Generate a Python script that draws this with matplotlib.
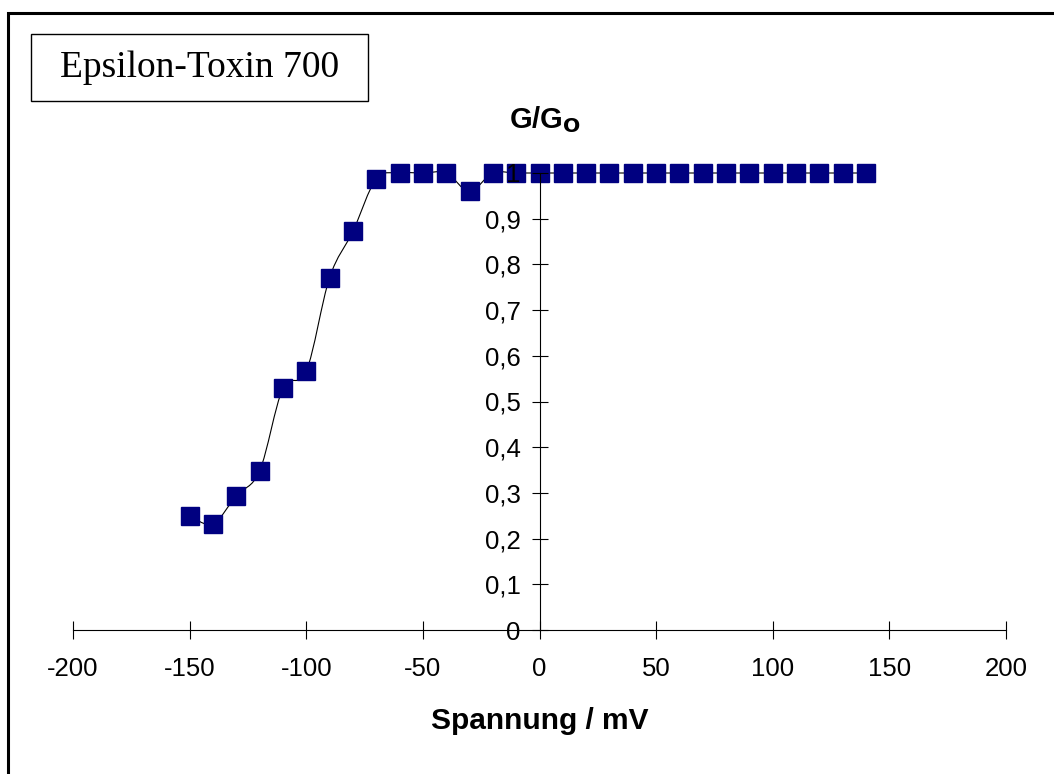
import matplotlib
matplotlib.use("Agg")
import matplotlib.pyplot as plt
from matplotlib.patches import Rectangle, PathPatch
from matplotlib.path import Path
from matplotlib.ticker import FuncFormatter

# membrane voltage (mV) and normalised conductance G/G0
spannung = [-150, -140, -130, -120, -110, -100, -90, -80, -70, -60, -50, -40, -30, -20,
            -10, 0, 10, 20, 30, 40, 50, 60, 70, 80, 90, 100, 110, 120, 130, 140]
leitwert = [0.250, 0.232, 0.294, 0.348, 0.529, 0.566, 0.771, 0.872, 0.987, 1.0, 1.0, 1.0, 0.960, 1.0,
            1.0, 1.0, 1.0, 1.0, 1.0, 1.0, 1.0, 1.0, 1.0, 1.0, 1.0, 1.0, 1.0, 1.0, 1.0, 1.0]

x_ticks = [-200, -150, -100, -50, 0, 50, 100, 150, 200]
y_ticks = [0, 0.1, 0.2, 0.3, 0.4, 0.5, 0.6, 0.7, 0.8, 0.9, 1]

titel = "Epsilon-Toxin 700"
x_label = "Spannung / mV"

W, H = 1054, 774
fig = plt.figure(figsize=(W / 100, H / 100), dpi=100)
ax = fig.add_axes([73 / W, 1 - 630 / H, 933 / W, 457 / H])

# smoothed connecting line (Catmull-Rom -> cubic Bezier)
def smooth_path(xs, ys):
    pts = list(zip(xs, ys))
    verts = [pts[0]]
    codes = [Path.MOVETO]
    n = len(pts)
    for i in range(n - 1):
        p0 = pts[i - 1] if i > 0 else pts[i]
        p1 = pts[i]
        p2 = pts[i + 1]
        p3 = pts[i + 2] if i + 2 < n else pts[i + 1]
        c1 = (p1[0] + (p2[0] - p0[0]) / 6, p1[1] + (p2[1] - p0[1]) / 6)
        c2 = (p2[0] - (p3[0] - p1[0]) / 6, p2[1] - (p3[1] - p1[1]) / 6)
        verts += [c1, c2, p2]
        codes += [Path.CURVE4] * 3
    return Path(verts, codes)

ax.add_patch(PathPatch(smooth_path(spannung, leitwert), fill=False, edgecolor="black",
                       lw=0.8, zorder=2, clip_on=False))
ax.plot(spannung, leitwert, ls="none", marker="s", ms=12.5, color="#000080",
        mec="#000080", zorder=2.2, clip_on=False)

ax.set_xlim(-200, 200)
ax.set_ylim(0, 1)
ax.set_xticks(x_ticks)
ax.set_yticks(y_ticks)
ax.set_axisbelow(False)  # tick labels ("1") stay on top of the markers

def komma(v, pos):
    if abs(v) < 1e-9:
        return "0"
    if abs(v - 1) < 1e-9:
        return "1"
    return ("%.1f" % v).replace(".", ",")

ax.yaxis.set_major_formatter(FuncFormatter(komma))
ax.xaxis.set_major_formatter(FuncFormatter(lambda v, p: "%d" % v))

for side in ("top", "right"):
    ax.spines[side].set_visible(False)
ax.spines["left"].set_position(("data", 0))
ax.spines["bottom"].set_position(("data", 0))
for side in ("left", "bottom"):
    ax.spines[side].set_linewidth(0.8)
    ax.spines[side].set_color("black")

ax.tick_params(axis="x", direction="inout", length=13, width=0.8, pad=13,
               labelsize=18.5, labelfontfamily="Liberation Sans")
ax.tick_params(axis="y", direction="inout", length=11.5, width=0.8, pad=8,
               labelsize=18.5, labelfontfamily="Liberation Sans")
ax.xaxis.set_ticks_position("bottom")
ax.yaxis.set_ticks_position("left")
ax.patch.set_visible(False)

# axis titles
fig.text(540 / W, 1 - 721 / H, x_label, ha="center", va="center",
         fontsize=21.5, fontweight="bold", family="Liberation Sans")
fig.text(545 / W, 1 - 120 / H, r"G/G$_\mathbf{O}$", ha="center", va="center",
         fontsize=21, fontweight="bold", family="Liberation Sans")

# outer frame of the chart area
fig.patches.append(Rectangle((8 / W, -0.05), 1.1, 1 - 13 / H + 0.05,
                             transform=fig.transFigure, fill=False,
                             edgecolor="black", lw=2.2))

# title box
fig.patches.append(Rectangle((31 / W, 1 - 101 / H), 337 / W, 67 / H,
                             transform=fig.transFigure, fill=False,
                             edgecolor="black", lw=1.0))
fig.text(199.5 / W, 1 - 68 / H, titel, ha="center", va="center",
         fontsize=27, family="Liberation Serif")

fig.savefig("out.png", dpi=100)
